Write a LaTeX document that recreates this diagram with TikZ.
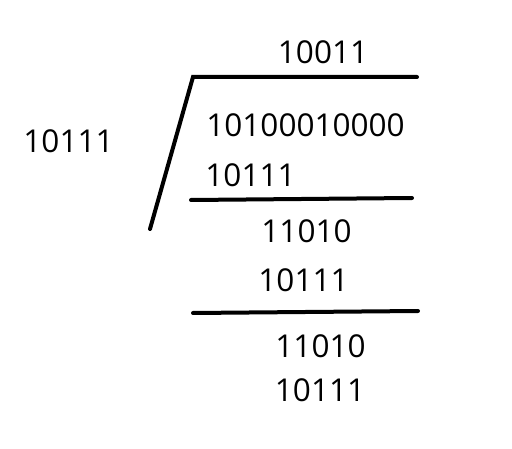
\documentclass[tikz,border=0pt]{standalone}
\usepackage{fontspec}
\setmainfont{Open Sans}
\usetikzlibrary{positioning}
\tikzset{num/.style = {inner sep=0pt, font=\fontsize{31.5}{38}\selectfont},
         bar/.style = {line width=4pt, line cap=round}}

\begin{document}
\begin{tikzpicture}[x=1pt, y=-1pt]
      \useasboundingbox (0, 0) rectangle (512, 449);

      % quotient and divisor
      \node [num] (quot) at (323, 52) {10011};
      \node [num] (divisor) at (68.5, 141) {10111};

      % division bracket
      \draw [bar] (150, 229) -- (193, 77) -- (417, 77);

      \node [num] (dividend) at (305.5, 125) {10100010000};
      \node [num] (sub1) at (250.5, 175) {10111};
      \draw [bar] (191, 200) -- (412, 198);

      \node [num] (rem1) at (306.5, 231.5) {11010};
      \node [num] (sub2) at (303.5, 280) {10111};
      \draw [bar] (193, 313) -- (418, 311);

      \node [num] (rem2) at (320.5, 346.5) {11010};
      \node [num] (sub3) at (320, 390) {10111};
    \end{tikzpicture}
\end{document}
